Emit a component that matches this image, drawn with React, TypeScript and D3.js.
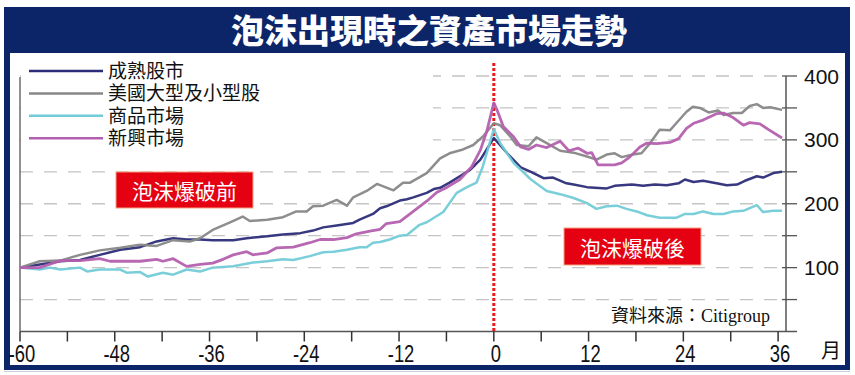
import React from 'react';
import * as d3 from 'd3';

// months relative to the bubble peak, index = 100 at month -60
const matureStocks: [number, number][] = [
  [-60, 100], [-57.5, 105], [-54.9, 110], [-52.4, 112], [-49.9, 120], [-47.3, 128], [-44.8, 132],
  [-42.7, 141], [-40.6, 146], [-38.9, 144], [-37.2, 144], [-35.6, 143], [-33, 143], [-31.3, 146],
  [-28.7, 149], [-26.7, 152], [-24.5, 154], [-22.9, 158], [-21.6, 163], [-19.9, 166], [-17.8, 170],
  [-17, 175], [-15.3, 184], [-14.4, 193], [-13.6, 196], [-11.9, 205], [-11, 207], [-10.2, 210],
  [-8.5, 217], [-7.6, 223], [-6.8, 225], [-5.6, 233], [-4.3, 243], [-3, 253], [-1.7, 269], [0, 303],
  [1.7, 279], [3.4, 257], [4.7, 250], [6.3, 240], [7.5, 241], [9.2, 232], [10.1, 230], [11.8, 226],
  [14.3, 224], [15.3, 228], [17.5, 230], [18.9, 228], [20.4, 230], [21.9, 229], [23.4, 232],
  [24.2, 238], [25.3, 234], [26.5, 236], [28.2, 232], [29.5, 229], [30.8, 230], [31.8, 236],
  [33.3, 243], [34.1, 241], [35.4, 248], [36.5, 250],
];

const usStocks: [number, number][] = [
  [-60, 100], [-57.5, 110], [-54.9, 111], [-52.4, 120], [-49.9, 127], [-47.3, 131], [-44.8, 136],
  [-42.7, 134], [-40.6, 143], [-38.5, 141], [-37.2, 146], [-35.6, 159], [-33.4, 171], [-31.8, 180],
  [-30.9, 173], [-28.7, 175], [-26.7, 179], [-25, 188], [-23.7, 188], [-22.9, 196], [-21.6, 197],
  [-19.9, 206], [-18.6, 197], [-17.8, 210], [-16.1, 220], [-14.8, 231], [-12.7, 221], [-11.5, 233],
  [-10.6, 233], [-8.5, 248], [-6.8, 271], [-5.6, 279], [-3.9, 285], [-2.6, 292], [-1.4, 305],
  [0, 326], [0.8, 323], [2.1, 305], [2.9, 292], [4.4, 290], [5.4, 304], [6.7, 295], [8.4, 283],
  [10.1, 280], [11.8, 274], [13, 269], [14.3, 277], [15.3, 279], [16.2, 273], [17.6, 277],
  [18.7, 279], [19.8, 295], [21, 316], [22.3, 315], [23.1, 326], [24.4, 344], [25.2, 352],
  [26.1, 350], [27.2, 343], [28.4, 346], [29.1, 339], [30.3, 342], [31.4, 342], [32.4, 353],
  [33.3, 356], [34.1, 350], [35, 351], [36.5, 347],
];

const commodities: [number, number][] = [
  [-60, 100], [-57.5, 97], [-56.2, 100], [-54.9, 97], [-52.4, 100], [-51.5, 94], [-49.9, 97],
  [-47.3, 97], [-46.5, 92], [-44.8, 93], [-43.8, 86], [-41.9, 92], [-40.6, 89], [-38.9, 97],
  [-37.2, 94], [-35.6, 100], [-33, 102], [-30.5, 108], [-28.7, 110], [-26.7, 113], [-25.4, 112],
  [-23.3, 118], [-21.6, 124], [-20.3, 125], [-18.6, 128], [-17, 132], [-16.1, 132], [-15.3, 139],
  [-14.4, 140], [-13.2, 144], [-11.9, 150], [-11, 151], [-9.4, 167], [-8.5, 171], [-6.4, 187],
  [-4.7, 217], [-3.4, 226], [-2.2, 233], [-1.4, 258], [0, 317], [0.8, 295], [2.5, 264], [4.7, 238],
  [6.7, 220], [8.4, 215], [10.1, 209], [11.8, 201], [13, 192], [14.3, 196], [15.6, 197],
  [16.8, 192], [18.1, 188], [19.4, 182], [21, 178], [23.1, 178], [24.2, 184], [25.3, 184],
  [26.5, 188], [27.8, 184], [29.1, 184], [30.3, 188], [31.6, 189], [33.3, 198], [34.1, 187],
  [35.4, 189], [36.5, 189],
];

const emerging: [number, number][] = [
  [-60, 100], [-57.5, 100], [-54.9, 111], [-52.4, 111], [-49.9, 114], [-48.6, 110], [-44.8, 110],
  [-42.7, 113], [-41.9, 110], [-40.6, 114], [-38.9, 102], [-37.2, 105], [-35.6, 107], [-34.3, 113],
  [-33, 120], [-31.3, 125], [-30.5, 120], [-28.7, 123], [-27.5, 131], [-25.4, 132], [-23.3, 139],
  [-22, 144], [-20.3, 144], [-18.6, 147], [-17.4, 153], [-15.7, 157], [-14.4, 160], [-13.6, 169],
  [-11.9, 172], [-10.2, 188], [-8.5, 204], [-7.2, 218], [-5.9, 226], [-4.3, 238], [-2.8, 258],
  [-1.7, 284], [-0.9, 313], [0, 358], [0.4, 347], [1.2, 321], [2.5, 305], [3.4, 289], [4.4, 285],
  [5.4, 292], [6.7, 288], [8.4, 298], [9.5, 283], [10.7, 287], [11.8, 279], [12.4, 280],
  [13.2, 261], [15.3, 261], [16.2, 264], [17.2, 273], [18.5, 289], [19.4, 295], [20.6, 294],
  [22.3, 296], [23.4, 302], [24.4, 318], [25.3, 326], [26.5, 331], [28.2, 341], [29.1, 342],
  [30.3, 335], [31.6, 323], [32.4, 327], [33.7, 325], [34.8, 316], [36.5, 303],
];

const seriesNames = ['成熟股市', '美國大型及小型股', '商品市場', '新興市場'];
const seriesColors = ['#2c2d78', '#878787', '#72cbd7', '#b45fae'];
const xTickLabels = [-60, -48, -36, -24, -12, 0, 12, 24, 36];
const yTickLabels = [100, 200, 300, 400];

const W = 855;
const H = 375;
const NAVY = '#0c2468';
const LEGEND_TOP = 71;
const LEGEND_STEP = 22.4;

const App: React.FC = () => {
  const x = d3.scaleLinear().domain([-60, 37]).range([20, 786]);
  const y = d3.scaleLinear().domain([0, 400]).range([331.5, 76]);
  const line = d3.line<[number, number]>()
    .x(d => x(d[0]))
    .y(d => y(d[1]));

  const allSeries = [matureStocks, usStocks, commodities, emerging];
  const xTicks = d3.range(-60, 37, 6);
  const yTicks = d3.range(50, 401, 50);
  const x0 = x(-60);
  const x1 = x(37);

  return (
    <svg width={W} height={H} style={{ position: 'absolute', left: 0, top: 0 }}>
      {/* frame and title bar */}
      <rect x={4} y={7} width={846} height={363} fill={NAVY} />
      <rect x={10} y={53} width={835} height={312} fill="#fff" />
      <line x1={4} x2={850} y1={371.5} y2={371.5} stroke="#c9d0dc" strokeWidth={1} />
      <text x={429} y={43} textAnchor="middle" fill="#fff" fontSize={33} fontWeight={900}
        fontFamily="'Noto Sans CJK TC', 'Noto Sans CJK SC', sans-serif">
        泡沫出現時之資產市場走勢
      </text>

      {/* grid */}
      {yTicks.map(v => (
        <line key={v} x1={x0} x2={x1} y1={y(v)} y2={y(v)} stroke="#c4c4c4" strokeWidth={1.3}
          strokeDasharray="13,11" />
      ))}
      <rect x={21} y={58} width={412} height={100} fill="#fff" />

      {/* axes */}
      <line x1={x0} x2={x0} y1={77} y2={y(0)} stroke="#555" strokeWidth={1.3} />
      <line x1={x1} x2={x1} y1={y(400)} y2={y(0)} stroke="#555" strokeWidth={1.5} />
      <line x1={x0} x2={797} y1={y(0)} y2={y(0)} stroke="#555" strokeWidth={1.5} />
      {yTicks.map(v => (
        <line key={v} x1={x1 - 4} x2={797} y1={y(v)} y2={y(v)} stroke="#555" strokeWidth={1.3} />
      ))}
      {yTickLabels.map(v => (
        <text key={v} x={804} y={y(v)} dominantBaseline="central" fontSize={21} fill="#111"
          fontFamily="'Liberation Sans', Arial, sans-serif">{v}</text>
      ))}
      {xTicks.map(m => (
        <line key={m} x1={x(m)} x2={x(m)} y1={y(0)} y2={y(0) + 10} stroke="#333" strokeWidth={1.5} />
      ))}
      {xTickLabels.map(m => (
        <text key={m} transform={`translate(${x(m) + 2},362) scale(0.8,1)`} textAnchor="middle"
          fontSize={23} fill="#111" fontFamily="'Liberation Sans', Arial, sans-serif">{m}</text>
      ))}
      <text x={821} y={358} fontSize={20} fill="#111"
        fontFamily="'Noto Sans CJK TC', sans-serif">月</text>

      {/* bubble peak marker */}
      <line x1={x(0)} x2={x(0)} y1={63} y2={y(0)} stroke="#f01818" strokeWidth={3}
        strokeDasharray="3,2" />

      {/* series */}
      {allSeries.map((s, i) => (
        <path key={i} d={line(s) || ''} fill="none" stroke={seriesColors[i]}
          strokeWidth={i === 3 ? 2.8 : 2.5} strokeLinejoin="round" opacity={0.95} />
      ))}

      {/* legend, rows packed tight as in the print original */}
      {seriesNames.map((name, i) => (
        <g key={name} transform={`translate(0,${LEGEND_TOP + i * LEGEND_STEP})`}>
          <line x1={29} x2={103} y1={0} y2={0} stroke={seriesColors[i]} strokeWidth={2.5} />
          <text x={108} y={6.8} fontSize={19} fill="#111"
            fontFamily="'Liberation Sans', 'Noto Sans CJK TC', sans-serif">{name}</text>
        </g>
      ))}

      {/* annotations */}
      <rect x={116} y={172} width={137} height={36} fill="#e50012" stroke="#f3a27f" strokeWidth={1} />
      <text x={184.5} y={190} textAnchor="middle" dominantBaseline="central" fontSize={21} fill="#fff"
        fontFamily="'Noto Sans CJK TC', sans-serif">泡沫爆破前</text>
      <rect x={564} y={228} width={137} height={37} fill="#e50012" stroke="#f3a27f" strokeWidth={1} />
      <text x={632.5} y={246.5} textAnchor="middle" dominantBaseline="central" fontSize={21} fill="#fff"
        fontFamily="'Noto Sans CJK TC', sans-serif">泡沫爆破後</text>
      <text x={770} y={322} textAnchor="end" fontSize={18} fill="#111"
        fontFamily="'Liberation Serif', 'Noto Sans CJK TC', serif">資料來源：Citigroup</text>
    </svg>
  );
};

export default App;
